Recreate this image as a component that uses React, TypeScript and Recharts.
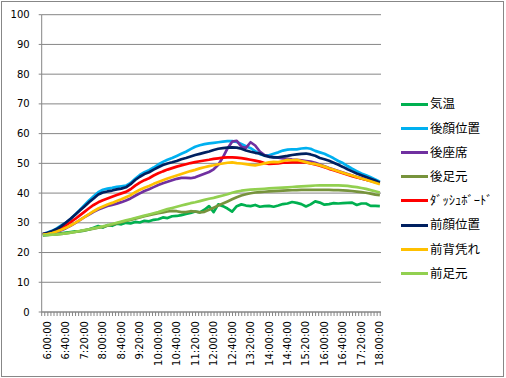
import React from 'react';
import { LineChart, Line, XAxis, YAxis, CartesianGrid } from 'recharts';

const timeCategories = [
  '5:50:00', '6:00:00', '6:10:00', '6:20:00', '6:30:00', '6:40:00', '6:50:00', '7:00:00', '7:10:00', '7:20:00',
  '7:30:00', '7:40:00', '7:50:00', '8:00:00', '8:10:00', '8:20:00', '8:30:00', '8:40:00', '8:50:00', '9:00:00',
  '9:10:00', '9:20:00', '9:30:00', '9:40:00', '9:50:00', '10:00:00', '10:10:00', '10:20:00', '10:30:00', '10:40:00',
  '10:50:00', '11:00:00', '11:10:00', '11:20:00', '11:30:00', '11:40:00', '11:50:00', '12:00:00', '12:10:00', '12:20:00',
  '12:30:00', '12:40:00', '12:50:00', '13:00:00', '13:10:00', '13:20:00', '13:30:00', '13:40:00', '13:50:00', '14:00:00',
  '14:10:00', '14:20:00', '14:30:00', '14:40:00', '14:50:00', '15:00:00', '15:10:00', '15:20:00', '15:30:00', '15:40:00',
  '15:50:00', '16:00:00', '16:10:00', '16:20:00', '16:30:00', '16:40:00', '16:50:00', '17:00:00', '17:10:00', '17:20:00',
  '17:30:00', '17:40:00', '17:50:00', '18:00:00',
];

const tickLabels = [
  '6:00:00', '6:40:00', '7:20:00', '8:00:00', '8:40:00', '9:20:00', '10:00:00', '10:40:00', '11:20:00', '12:00:00',
  '12:40:00', '13:20:00', '14:00:00', '14:40:00', '15:20:00', '16:00:00', '16:40:00', '17:20:00', '18:00:00',
];

const yTicks = [0, 10, 20, 30, 40, 50, 60, 70, 80, 90, 100];

const kion = [
  25.8, 25.9, 26.1, 26.3, 26.5, 26.7, 26.9, 27.1, 27.2, 27.4,
  27.8, 28.3, 28.9, 28.4, 29.2, 29.0, 29.7, 29.5, 30.0, 29.8,
  30.3, 30.1, 30.7, 30.5, 31.0, 31.2, 31.8, 31.6, 32.2, 32.3,
  32.6, 33.0, 33.3, 33.8, 33.5, 34.4, 35.6, 33.6, 36.2, 35.6,
  34.8, 33.8, 35.6, 36.2, 35.8, 35.6, 36.0, 35.4, 35.6, 35.7,
  35.4, 35.8, 36.3, 36.5, 37.0, 36.7, 36.3, 35.5, 36.2, 37.2,
  36.8, 36.1, 36.3, 36.6, 36.5, 36.6, 36.7, 36.8, 36.0, 36.5,
  36.5, 35.7, 35.7, 35.6,
];

const rearFace = [
  26.2, 26.7, 27.3, 28.1, 29.1, 30.1, 31.3, 32.8, 34.3, 35.9,
  37.5, 38.9, 40.3, 41.1, 41.5, 41.75, 42.1, 42.3, 42.5, 43.4,
  44.8, 46.1, 47.0, 47.7, 48.6, 49.6, 50.5, 51.2, 51.8, 52.5,
  53.2, 53.9, 54.8, 55.6, 56.1, 56.45, 56.7, 56.9, 57.1, 57.3,
  57.5, 57.5, 57.2, 56.5, 55.8, 55.1, 54.1, 53.1, 52.7, 52.7,
  53.2, 53.7, 54.3, 54.6, 54.75, 54.7, 55.0, 55.15, 54.9, 54.2,
  53.7, 53.2, 52.5, 51.7, 50.8, 50.1, 49.1, 48.2, 47.4, 46.6,
  46.0, 45.3, 44.6, 43.8,
];

const rearSeat = [
  26.0, 26.2, 26.45, 26.95, 27.5, 28.2, 29.0, 29.9, 30.9, 31.9,
  32.8, 33.7, 34.5, 35.1, 35.65, 36.05, 36.45, 36.95, 37.5, 38.2,
  39.1, 39.9, 40.7, 41.3, 42.0, 42.7, 43.3, 43.8, 44.3, 44.8,
  45.1, 45.1, 45.0, 45.3, 45.9, 46.5, 47.1, 48.0, 49.5, 52.0,
  55.0, 57.3, 57.6, 55.6, 55.2, 57.1, 56.0, 54.0, 52.8, 52.3,
  52.1, 51.9, 51.7, 51.5, 51.3, 51.2, 51.0, 50.8, 50.6, 50.2,
  49.6, 49.0, 48.4, 47.9, 47.4, 46.9, 46.4, 45.9, 45.4, 44.9,
  44.5, 44.1, 43.7, 43.3,
];

const rearFeet = [
  25.9, 25.9, 26.0, 26.1, 26.25, 26.45, 26.65, 26.9, 27.15, 27.45,
  27.75, 28.05, 28.35, 28.65, 29.0, 29.4, 29.8, 30.2, 30.6, 31.0,
  31.4, 31.8, 32.2, 32.6, 32.9, 33.2, 33.5, 33.8, 34.0, 33.9,
  33.6, 33.6, 33.9, 33.8, 33.5, 33.7, 34.4, 35.1, 35.8, 36.5,
  37.2, 37.9, 38.6, 39.2, 39.6, 39.95, 40.2, 40.35, 40.45, 40.55,
  40.65, 40.75, 40.85, 40.9, 40.95, 41.0, 41.05, 41.1, 41.1, 41.1,
  41.1, 41.1, 41.1, 41.0, 41.0, 40.9, 40.8, 40.7, 40.5, 40.3,
  40.1, 39.8, 39.5, 39.3,
];

const dashboard = [
  26.2, 26.45, 26.95, 27.55, 28.3, 29.2, 30.2, 31.3, 32.5, 33.7,
  34.9, 36.0, 36.9, 37.6, 38.2, 38.8, 39.35, 39.9, 40.4, 41.3,
  42.5, 43.5, 44.35, 45.0, 45.9, 46.65, 47.3, 47.9, 48.4, 48.9,
  49.3, 49.7, 50.1, 50.4, 50.7, 50.95, 51.2, 51.5, 51.7, 51.9,
  52.0, 52.0, 51.9, 51.75, 51.5, 51.2, 50.9, 50.6, 50.1, 49.8,
  49.9, 50.0, 50.2, 50.2, 50.3, 50.3, 50.4, 50.3, 50.0, 49.6,
  49.2, 48.7, 48.15, 47.65, 47.15, 46.65, 46.15, 45.7, 45.3, 44.9,
  44.5, 44.2, 43.8, 43.4,
];

const frontFace = [
  26.2, 26.65, 27.15, 27.9, 28.9, 30.1, 31.35, 32.7, 34.1, 35.5,
  36.95, 38.2, 39.5, 40.2, 40.55, 40.85, 41.25, 41.5, 41.95, 43.0,
  44.4, 45.5, 46.4, 47.0, 47.9, 48.7, 49.45, 49.95, 50.35, 50.8,
  51.4, 51.8, 52.3, 52.8, 53.2, 53.6, 54.0, 54.5, 54.9, 55.1,
  55.3, 55.4, 55.3, 54.9, 54.3, 53.9, 53.55, 53.3, 52.6, 52.2,
  52.0, 52.0, 52.3, 52.5, 52.8, 53.0, 53.2, 53.3, 53.0, 52.55,
  51.8, 51.4, 50.9, 50.2, 49.5, 48.8, 48.0, 47.3, 46.6, 46.0,
  45.4, 44.8, 44.2, 43.5,
];

const frontBack = [
  26.0, 26.2, 26.55, 27.05, 27.65, 28.3, 29.1, 30.0, 30.9, 31.9,
  32.9, 33.9, 34.8, 35.5, 36.15, 36.7, 37.3, 37.9, 38.6, 39.3,
  40.3, 41.1, 41.8, 42.4, 43.1, 43.7, 44.3, 44.9, 45.4, 45.9,
  46.4, 46.9, 47.4, 47.8, 48.3, 48.7, 49.05, 49.35, 49.7, 49.95,
  50.2, 50.3, 50.1, 49.95, 49.75, 49.5, 49.3, 49.6, 50.0, 50.35,
  50.5, 50.4, 50.8, 51.15, 51.05, 51.15, 50.8, 50.4, 50.0, 49.8,
  49.4, 48.9, 48.35, 47.85, 47.35, 46.85, 46.35, 45.9, 45.4, 44.9,
  44.5, 44.0, 43.5, 43.0,
];

const frontFeet = [
  25.9, 25.9, 26.0, 26.1, 26.25, 26.45, 26.7, 26.95, 27.25, 27.55,
  27.85, 28.15, 28.45, 28.8, 29.2, 29.6, 30.0, 30.4, 30.8, 31.2,
  31.6, 32.0, 32.4, 32.8, 33.2, 33.6, 34.1, 34.6, 35.0, 35.4,
  35.8, 36.2, 36.6, 36.9, 37.3, 37.7, 38.1, 38.4, 38.8, 39.2,
  39.6, 40.1, 40.5, 40.8, 41.0, 41.15, 41.25, 41.35, 41.45, 41.55,
  41.65, 41.75, 41.85, 41.95, 42.05, 42.15, 42.25, 42.35, 42.45, 42.55,
  42.6, 42.6, 42.6, 42.6, 42.6, 42.5, 42.4, 42.2, 42.0, 41.7,
  41.4, 41.0, 40.6, 40.2,
];

const seriesNames = ['気温', '後顔位置', '後座席', '後足元', 'ﾀﾞｯｼｭﾎﾞｰﾄﾞ', '前顔位置', '前背凭れ', '前足元'];
const seriesColors = ['#00B050', '#00B0F0', '#7030A0', '#77933C', '#FF0000', '#002060', '#FFC000', '#92D050'];
const seriesValues = [kion, rearFace, rearSeat, rearFeet, dashboard, frontFace, frontBack, frontFeet];

const toMinutes = (s: string) => {
  const [h, m] = s.split(':').map(Number);
  return h * 60 + m - 360;
};

const data = timeCategories.map((c, i) => {
  const row: Record<string, number> = { t: toMinutes(c) };
  seriesValues.forEach((arr, k) => {
    row['s' + k] = arr[i];
  });
  return row;
});

const STEP = 5;
const domainMin = toMinutes(timeCategories[0]) - STEP / 2;
const domainMax = toMinutes(timeCategories[timeCategories.length - 1]) + STEP / 2;
const labelMinutes = tickLabels.map(toMinutes);
const minorTicks: number[] = [];
for (let v = domainMin; v <= domainMax + 0.01; v += 20 / 3) minorTicks.push(v);
const allTicks = [...labelMinutes, ...minorTicks];

const AXIS = '#868686';
const NUM_FONT = 'DejaVu Sans, sans-serif';
const JP_FONT = '"Noto Sans CJK JP", sans-serif';

const XTick = (props: any) => {
  const { x, y, payload } = props;
  const idx = labelMinutes.indexOf(payload.value);
  if (idx >= 0) {
    return (
      <text
        x={x}
        y={y}
        transform={`rotate(-90 ${x} ${y})`}
        textAnchor="end"
        dy="0.35em"
        fontSize={10}
        fontFamily={NUM_FONT}
        fill="#000"
      >
        {tickLabels[idx]}
      </text>
    );
  }
  return <line x1={x} x2={x} y1={y - 9} y2={y - 5} stroke={AXIS} strokeWidth={1} />;
};

const legendTop = 104;
const legendGap = 24.2;

export default function App() {
  return (
    <div style={{ position: 'fixed', left: 0, top: 0, width: 506, height: 378, background: '#fff' }}>
      <div
        style={{
          position: 'absolute',
          left: 1,
          top: 1,
          width: 503,
          height: 376,
          border: '1px solid #878787',
          boxSizing: 'border-box',
        }}
      />
      <div style={{ position: 'absolute', left: 0, top: 0 }}>
        <LineChart width={506} height={378} data={data} margin={{ top: 14.7, right: 125, left: 0, bottom: 0 }}>
          <CartesianGrid vertical={false} stroke={AXIS} strokeDasharray="" />
          <XAxis
            type="number"
            dataKey="t"
            domain={[domainMin, domainMax]}
            ticks={allTicks}
            interval={0}
            tick={XTick}
            tickLine={false}
            tickSize={4}
            tickMargin={5}
            height={66}
            axisLine={{ stroke: AXIS }}
            allowDataOverflow
          />
          <YAxis
            type="number"
            domain={[0, 100]}
            ticks={yTicks}
            interval={0}
            width={41.7}
            tickSize={3}
            tickMargin={9}
            axisLine={{ stroke: AXIS }}
            tickLine={{ stroke: AXIS }}
            tick={{ fontSize: 10, fill: '#000', fontFamily: NUM_FONT }}
          />
          {seriesNames.map((name, k) => (
            <Line
              key={name}
              name={name}
              type="linear"
              dataKey={'s' + k}
              stroke={seriesColors[k]}
              strokeWidth={2.7}
              strokeLinejoin="round"
              dot={false}
              activeDot={false}
              isAnimationActive={false}
            />
          ))}
        </LineChart>
      </div>
      {seriesNames.map((name, k) => {
        const cy = legendTop + k * legendGap;
        return (
          <React.Fragment key={name}>
            <div
              style={{
                position: 'absolute',
                left: 400.7,
                top: cy - 1.5,
                width: 27.6,
                height: 3,
                background: seriesColors[k],
              }}
            />
            <div
              style={{
                position: 'absolute',
                left: 430,
                top: cy - 8.7,
                height: 16,
                lineHeight: '16px',
                fontSize: 12.5,
                fontFamily: JP_FONT,
                color: '#000',
                whiteSpace: 'nowrap',
              }}
            >
              {name}
            </div>
          </React.Fragment>
        );
      })}
    </div>
  );
}
